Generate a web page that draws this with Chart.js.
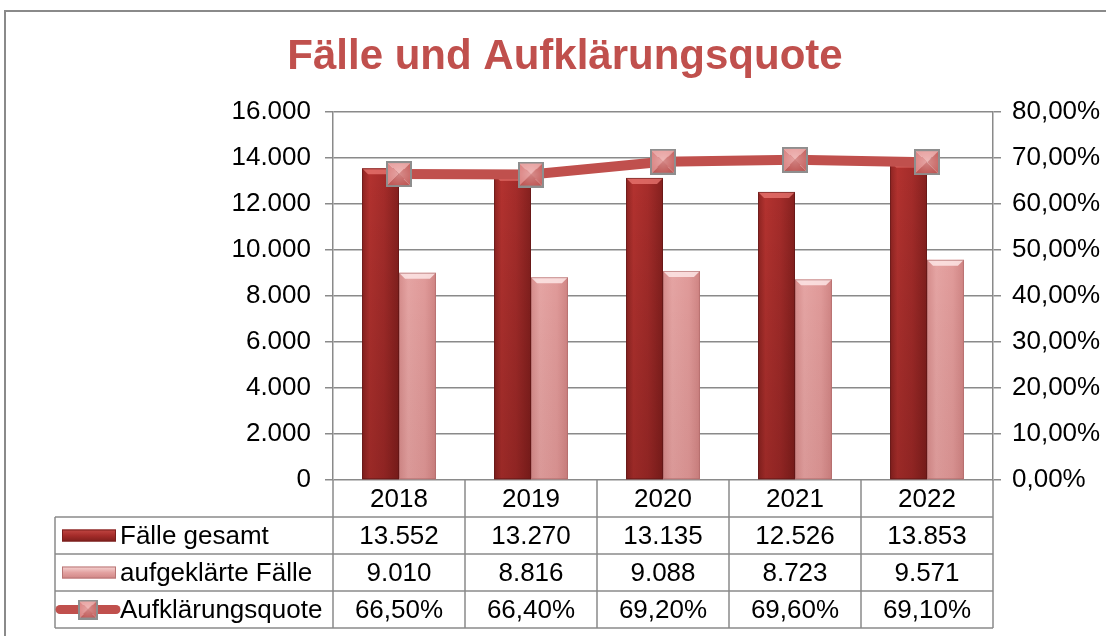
<!DOCTYPE html>
<html>
<head>
<meta charset="utf-8">
<script src="https://cdn.jsdelivr.net/npm/chart.js@4.4.0/dist/chart.umd.min.js"></script>
<style>
  html, body { margin: 0; padding: 0; background: #fff; }
  #chart { display: block; }
</style>
</head>
<body>
<canvas id="chart" width="1106" height="636"></canvas>
<script>
// ---- data ----
const years = ["2018", "2019", "2020", "2021", "2022"];
const faelleGesamt = [13552, 13270, 13135, 12526, 13853];
const aufgeklaerteFaelle = [9010, 8816, 9088, 8723, 9571];
const aufklaerungsquote = [0.665, 0.664, 0.692, 0.696, 0.691];
const seriesNames = ["Fälle gesamt", "aufgeklärte Fälle", "Aufklärungsquote"];
const leftTicks = { min: 0, max: 16000, step: 2000 };
const rightTicks = { min: 0, max: 0.8, step: 0.1 };

const FONT = "'Liberation Sans', Arial, sans-serif";
const GRID = "#8a8a8a";
const RED = "#C0504D";
const CAT_PCT = 0.56;

const fmtInt = (n) => String(Math.round(n)).replace(/\B(?=(\d{3})+(?!\d))/g, ".");
const fmtPct = (v) => (v * 100).toFixed(2).replace(".", ",") + "%";

// marker: little bevelled square like the office one
function makeMarker(s) {
  const c = document.createElement("canvas");
  c.width = c.height = s;
  const g = c.getContext("2d");
  const m = s / 2;
  const tri = (pts, col) => {
    g.beginPath();
    g.moveTo(pts[0][0], pts[0][1]);
    g.lineTo(pts[1][0], pts[1][1]);
    g.lineTo(pts[2][0], pts[2][1]);
    g.closePath();
    g.fillStyle = col;
    g.fill();
  };
  tri([[0, 0], [s, 0], [m, m]], "#E9A3A2");
  tri([[0, 0], [0, s], [m, m]], "#DC8685");
  tri([[s, 0], [s, s], [m, m]], "#C96866");
  tri([[0, s], [s, s], [m, m]], "#C05957");
  const rg = g.createRadialGradient(m, m, 0, m, m, m);
  rg.addColorStop(0, "rgba(255,255,255,0.25)");
  rg.addColorStop(1, "rgba(255,255,255,0)");
  g.fillStyle = rg;
  g.fillRect(0, 0, s, s);
  g.strokeStyle = "#8e8e8e";
  g.lineWidth = 2;
  g.strokeRect(1, 1, s - 2, s - 2);
  return c;
}
const marker = makeMarker(26);
const smallMarker = makeMarker(20);

function barFill(dark) {
  return (ctx) => {
    const fallback = dark ? "#A52D2B" : "#E09C9B";
    const x = ctx.chart.scales.x;
    if (!x || ctx.dataIndex === undefined) return fallback;
    const c = x.getPixelForValue(ctx.dataIndex);
    const w = (x.width / years.length) * CAT_PCT / 2;
    if (!Number.isFinite(c) || !Number.isFinite(w) || w <= 0) return fallback;
    const x0 = dark ? c - w : c;
    const g = ctx.chart.ctx.createLinearGradient(x0, 0, x0 + w, 0);
    if (dark) {
      g.addColorStop(0, "#8E2422");
      g.addColorStop(0.2, "#B3322F");
      g.addColorStop(0.6, "#A52C2A");
      g.addColorStop(1, "#84201E");
    } else {
      g.addColorStop(0, "#D58C8B");
      g.addColorStop(0.25, "#E5A4A3");
      g.addColorStop(0.7, "#E09A99");
      g.addColorStop(1, "#CF8483");
    }
    return g;
  };
}

// bevel highlight on top of each bar
const bevelPlugin = {
  id: "bevel",
  afterDatasetDraw(chart, args) {
    if (args.index > 1) return;
    const dark = args.index === 0;
    const ctx = chart.ctx;
    ctx.save();
    args.meta.data.forEach((el) => {
      const { x, y, base, width } = el.getProps(["x", "y", "base", "width"], true);
      const l = x - width / 2, r = x + width / 2, b = 6;
      ctx.beginPath();
      ctx.moveTo(l, y); ctx.lineTo(r, y); ctx.lineTo(r - b, y + b); ctx.lineTo(l + b, y + b);
      ctx.closePath();
      ctx.fillStyle = dark ? "rgba(235,120,115,0.75)" : "rgba(255,235,235,0.8)";
      ctx.fill();
      const vg = ctx.createLinearGradient(0, y, 0, base);
      vg.addColorStop(0, "rgba(0,0,0,0)");
      vg.addColorStop(1, dark ? "rgba(40,0,0,0.18)" : "rgba(90,20,20,0.08)");
      ctx.fillStyle = vg;
      ctx.fillRect(l, y + b, width, base - y - b);
      ctx.strokeStyle = dark ? "rgba(90,20,20,0.6)" : "rgba(170,100,100,0.6)";
      ctx.lineWidth = 1;
      ctx.strokeRect(l + 0.5, y + 0.5, width - 1, base - y - 1);
    });
    ctx.restore();
  }
};

function drawSwatch(ctx, kind, x, y) {
  if (kind === 2) {
    ctx.strokeStyle = RED;
    ctx.lineWidth = 9;
    ctx.lineCap = "round";
    ctx.beginPath();
    ctx.moveTo(x + 2, y); ctx.lineTo(x + 58, y);
    ctx.stroke();
    ctx.drawImage(smallMarker, x + 30 - 10, y - 10);
    return;
  }
  const dark = kind === 0;
  const g = ctx.createLinearGradient(0, y - 6, 0, y + 6);
  if (dark) {
    g.addColorStop(0, "#C24743"); g.addColorStop(0.5, "#A52C2A"); g.addColorStop(1, "#7E1E1C");
  } else {
    g.addColorStop(0, "#F6D6D5"); g.addColorStop(0.5, "#E3A2A1"); g.addColorStop(1, "#D08584");
  }
  ctx.fillStyle = g;
  ctx.fillRect(x + 4, y - 6, 54, 12);
  ctx.strokeStyle = dark ? "#7a1e1c" : "#b77574";
  ctx.lineWidth = 1;
  ctx.strokeRect(x + 4.5, y - 5.5, 53, 11);
}

// data table under the plot plus the outer frame
const tablePlugin = {
  id: "datatable",
  beforeDraw(chart) {
    const ctx = chart.ctx;
    ctx.save();
    ctx.strokeStyle = GRID;
    ctx.lineWidth = 2;
    ctx.beginPath();
    ctx.moveTo(5, chart.height); ctx.lineTo(5, 11); ctx.lineTo(chart.width, 11);
    ctx.stroke();
    ctx.restore();
  },
  afterDraw(chart) {
    const { ctx, chartArea } = chart;
    const x = chart.scales.x;
    const rowH = 37;
    const top = chartArea.bottom;
    const colW = x.width / years.length;
    const left = 55;
    const right = chartArea.right;
    ctx.save();
    ctx.strokeStyle = GRID;
    ctx.lineWidth = 1.5;
    ctx.beginPath();
    for (let r = 1; r <= 4; r++) {
      ctx.moveTo(left, top + r * rowH); ctx.lineTo(right, top + r * rowH);
    }
    ctx.moveTo(left, top + rowH); ctx.lineTo(left, top + 4 * rowH);
    for (let i = 0; i <= years.length; i++) {
      const vx = x.left + i * colW;
      ctx.moveTo(vx, top); ctx.lineTo(vx, top + 4 * rowH);
    }
    ctx.stroke();

    ctx.fillStyle = "#000";
    ctx.font = "26px " + FONT;
    ctx.textBaseline = "middle";
    ctx.textAlign = "center";
    const rows = [faelleGesamt.map(fmtInt), aufgeklaerteFaelle.map(fmtInt), aufklaerungsquote.map(fmtPct)];
    years.forEach((yr, i) => {
      const cx = x.getPixelForValue(i);
      ctx.fillText(yr, cx, top + rowH / 2 + 1);
      rows.forEach((vals, r) => ctx.fillText(vals[i], cx, top + (r + 1.5) * rowH + 1));
    });
    ctx.textAlign = "left";
    seriesNames.forEach((name, r) => {
      const cy = top + (r + 1.5) * rowH;
      drawSwatch(ctx, r, 58, cy);
      ctx.fillStyle = "#000";
      ctx.fillText(name, 120, cy + 1);
    });
    ctx.restore();
  }
};

new Chart(document.getElementById("chart"), {
  type: "bar",
  data: {
    labels: years,
    datasets: [
      {
        label: seriesNames[0],
        data: faelleGesamt,
        yAxisID: "y",
        backgroundColor: barFill(true),
        categoryPercentage: CAT_PCT,
        barPercentage: 1,
        order: 1
      },
      {
        label: seriesNames[1],
        data: aufgeklaerteFaelle,
        yAxisID: "y",
        backgroundColor: barFill(false),
        categoryPercentage: CAT_PCT,
        barPercentage: 1,
        order: 1
      },
      {
        type: "line",
        label: seriesNames[2],
        data: aufklaerungsquote,
        yAxisID: "y1",
        borderColor: RED,
        borderWidth: 10,
        pointStyle: marker,
        pointRadius: 13,
        tension: 0,
        order: 0
      }
    ]
  },
  options: {
    responsive: false,
    animation: false,
    devicePixelRatio: 1,
    layout: { padding: { left: 24, right: 0, top: 0, bottom: 156 } },
    plugins: {
      legend: { display: false },
      tooltip: { enabled: false },
      title: {
        display: true,
        text: "Fälle und Aufklärungsquote",
        color: RED,
        font: { family: FONT, size: 42, weight: "bold", lineHeight: 1.2 },
        padding: { top: 32, bottom: 29.6 }
      }
    },
    scales: {
      x: { display: false, offset: true },
      y: {
        position: "left",
        min: leftTicks.min,
        max: leftTicks.max,
        ticks: {
          stepSize: leftTicks.step,
          color: "#000",
          font: { family: FONT, size: 26 },
          padding: 14,
          callback: (v) => fmtInt(v)
        },
        grid: { color: GRID, lineWidth: 1.5, tickLength: 8 },
        border: { color: GRID, width: 1.5 },
        afterFit: (s) => { s.width = 309; }
      },
      y1: {
        position: "right",
        min: rightTicks.min,
        max: rightTicks.max,
        ticks: {
          stepSize: rightTicks.step,
          color: "#000",
          font: { family: FONT, size: 26 },
          padding: 11,
          callback: (v) => fmtPct(v)
        },
        grid: { drawOnChartArea: false, color: GRID, lineWidth: 1.5, tickLength: 8 },
        border: { color: GRID, width: 1.5 },
        afterFit: (s) => { s.width = 113; }
      }
    }
  },
  plugins: [bevelPlugin, tablePlugin]
});
</script>
</body>
</html>
